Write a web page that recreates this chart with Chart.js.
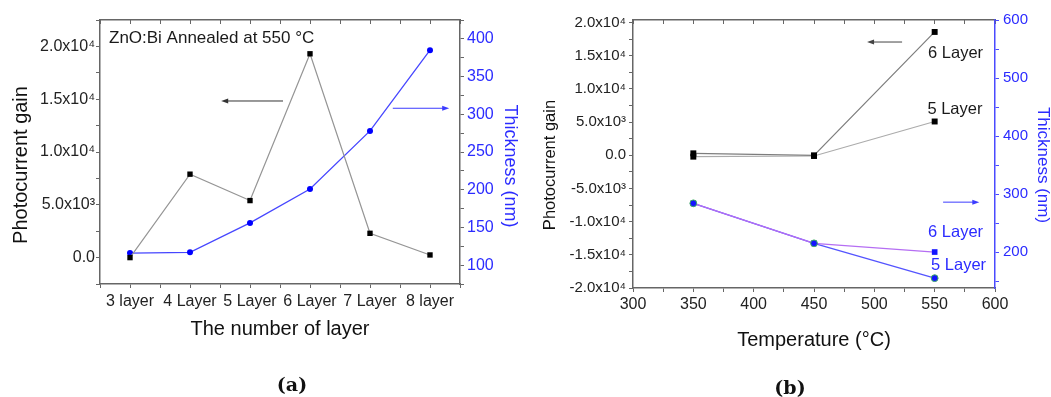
<!DOCTYPE html>
<html>
<head>
<meta charset="utf-8">
<script src="https://cdn.jsdelivr.net/npm/chart.js@4/dist/chart.umd.min.js"></script>
<style>
  body { margin: 0; background: #fff; width: 1051px; height: 397px; position: relative; overflow: hidden; }
  canvas { position: absolute; top: 0; }
  #chartA { left: 0; }
  #chartB { left: 525px; }
  .tag { position: absolute; transform: translate(-50%, -50%); font: bold 19px 'DejaVu Serif', 'Liberation Serif', serif; color: #111; }
</style>
</head>
<body>
<canvas id="chartA" width="525" height="397"></canvas>
<canvas id="chartB" width="526" height="397"></canvas>
<div class="tag" style="left:292px;top:384px">(a)</div>
<div class="tag" style="left:790px;top:387px">(b)</div>
<script>
// (a) ZnO:Bi annealed at 550 C, by number of layers
const layers = ['3 layer', '4 Layer', '5 Layer', '6 Layer', '7 Layer', '8 layer'];
const gainByLayer = [0, 7900, 5400, 19300, 2300, 250];
const thicknessByLayer = [116, 117, 156, 201, 278, 385];

// (b) by annealing temperature
const temps = [350, 450, 550];
const gain6 = [300, 0, 18600];
const gain5 = [-200, -100, 5100];
const thick6 = [284, 215, 200];
const thick5 = [284, 215, 155];

const FONT = "'Liberation Sans', Arial, sans-serif";
const INK = '#222';
const AXIS = '#666';
const BLUE = '#2b2bff';

const SUP = { 3: '\u00b3', 4: '\u2074' };

function sci(v) {
  if (v === 0) return '0.0';
  const e = Math.floor(Math.log10(Math.abs(v)));
  return (v / Math.pow(10, e)).toFixed(1) + 'x10' + SUP[e];
}

function pts(xs, ys) {
  return xs.map((x, i) => ({ x: x, y: ys[i] }));
}

// major ticks get a label, minor ones only a mark
function stepTicks(step) {
  return scale => {
    const out = [];
    for (let v = Math.ceil(scale.min / step - 1e-9) * step; v <= scale.max + 1e-9; v += step) {
      out.push({ value: Math.round(v * 1000) / 1000 });
    }
    scale.ticks = out;
  };
}

function isMajor(v, major) {
  return Math.abs(v / major - Math.round(v / major)) < 1e-6;
}

function makeAxis(o) {
  const horizontal = o.position === 'top' || o.position === 'bottom';
  return {
    type: 'linear',
    position: o.position,
    min: o.min,
    max: o.max,
    afterBuildTicks: stepTicks(o.step),
    afterFit: s => { s[horizontal ? 'height' : 'width'] = o.fixed; },
    border: { display: true, color: o.line || AXIS, width: 1.5 },
    grid: { drawOnChartArea: false, tickLength: o.tickLength || 4, color: o.line || AXIS },
    title: o.title || { display: false },
    ticks: {
      display: o.label !== undefined,
      autoSkip: false,
      maxRotation: 0,
      padding: o.pad || 0,
      color: o.color || INK,
      font: { family: FONT, size: o.size || 16 },
      callback: v => (o.label && isMajor(v, o.major) ? o.label(v) : '')
    }
  };
}

function arrow(ctx, x1, y1, x2, y2, color) {
  const dir = Math.sign(x2 - x1);
  ctx.strokeStyle = color;
  ctx.fillStyle = color;
  ctx.lineWidth = 1;
  ctx.beginPath();
  ctx.moveTo(x1, y1);
  ctx.lineTo(x2 - dir * 6, y2);
  ctx.stroke();
  ctx.beginPath();
  ctx.moveTo(x2, y2);
  ctx.lineTo(x2 - dir * 7, y2 - 2.5);
  ctx.lineTo(x2 - dir * 7, y2 + 2.5);
  ctx.closePath();
  ctx.fill();
}

const decorations = {
  id: 'decorations',
  afterDatasetsDraw(chart, args, opts) {
    const ctx = chart.ctx;
    const xs = chart.scales.x;
    ctx.save();
    (opts.arrows || []).forEach(a => {
      const ys = chart.scales[a.yAxis];
      arrow(ctx, xs.getPixelForValue(a.from[0]), ys.getPixelForValue(a.from[1]),
        xs.getPixelForValue(a.to[0]), ys.getPixelForValue(a.to[1]), a.color);
    });
    ctx.textBaseline = 'middle';
    (opts.notes || []).forEach(n => {
      const ys = chart.scales[n.yAxis];
      ctx.font = n.size + 'px ' + FONT;
      ctx.fillStyle = n.color;
      ctx.textAlign = 'left';
      ctx.fillText(n.text, xs.getPixelForValue(n.x), ys.getPixelForValue(n.y));
    });
    // rotated axis titles
    (opts.titles || []).forEach(t => {
      ctx.save();
      ctx.translate(t.x, t.y);
      ctx.rotate(t.rot * Math.PI / 180);
      ctx.font = t.size + 'px ' + FONT;
      ctx.fillStyle = t.color;
      ctx.textAlign = 'center';
      ctx.fillText(t.text, 0, 0);
      ctx.restore();
    });
    ctx.restore();
  }
};

const base = {
  responsive: false,
  animation: false,
  devicePixelRatio: 1,
  layout: { padding: 0 },
  elements: { line: { tension: 0 } }
};

new Chart(document.getElementById('chartA'), {
  type: 'line',
  data: {
    datasets: [
      {
        data: pts(layers.map((_, i) => i), gainByLayer),
        yAxisID: 'y',
        borderColor: '#959595',
        borderWidth: 1.2,
        pointStyle: 'rect',
        pointRadius: 3.8,
        pointBackgroundColor: '#000',
        pointBorderWidth: 0
      },
      {
        data: pts(layers.map((_, i) => i), thicknessByLayer),
        yAxisID: 'y2',
        borderColor: '#4646ff',
        borderWidth: 1.3,
        pointStyle: 'circle',
        pointRadius: 3,
        pointBackgroundColor: '#0000ff',
        pointBorderWidth: 0
      }
    ]
  },
  options: Object.assign({}, base, {
    plugins: {
      legend: { display: false },
      tooltip: { enabled: false },
      decorations: {
        arrows: [
          { from: [2.55, 14830], to: [1.52, 14830], yAxis: 'y', color: '#333' },
          { from: [4.38, 308], to: [5.32, 308], yAxis: 'y2', color: '#3b3bff' }
        ],
        notes: [
          { text: 'ZnO:Bi Annealed at 550 \u00b0C', x: -0.35, y: 20800, yAxis: 'y', size: 17, color: '#1a1a1a' }
        ],
        titles: [
          { text: 'Photocurrent gain', x: 21, y: 165, rot: -90, size: 20, color: '#111' },
          { text: 'Thickness (nm)', x: 510, y: 166, rot: 90, size: 18, color: BLUE }
        ]
      }
    },
    scales: {
      x: makeAxis({
        position: 'bottom', min: -0.5, max: 5.5, step: 0.5, major: 1,
        label: v => layers[v], pad: 3.5, fixed: 113,
        title: { display: true, text: 'The number of layer', color: '#111',
          font: { family: FONT, size: 20 }, padding: { top: 0, bottom: 56 } }
      }),
      xTop: makeAxis({ position: 'top', min: -0.5, max: 5.5, step: 0.5, tickLength: -4, fixed: 20 }),
      y: makeAxis({ position: 'left', min: -2500, max: 22500, step: 2500, major: 5000, label: sci, pad: 1, fixed: 100 }),
      y2: makeAxis({ position: 'right', min: 75, max: 425, step: 25, major: 50, label: v => String(v), color: BLUE, pad: 3, fixed: 65 })
    }
  }),
  plugins: [decorations]
});

new Chart(document.getElementById('chartB'), {
  type: 'line',
  data: {
    datasets: [
      {
        data: pts(temps, thick5),
        yAxisID: 'y2',
        showLine: false,
        pointStyle: 'circle',
        pointRadius: 3.4,
        pointBackgroundColor: '#1414ff',
        pointBorderColor: '#3fae5f',
        pointBorderWidth: 1
      },
      {
        data: pts(temps, thick6),
        yAxisID: 'y2',
        borderColor: '#b56ef3',
        borderWidth: 1.3,
        pointStyle: 'rect',
        pointRadius: 4,
        pointBackgroundColor: '#1414ff',
        pointBorderWidth: 0
      },
      {
        data: pts(temps, thick5),
        yAxisID: 'y2',
        borderColor: '#5454ff',
        borderWidth: 1.3,
        pointRadius: 0
      },
      {
        data: pts(temps, gain6),
        yAxisID: 'y',
        borderColor: '#7d7d7d',
        borderWidth: 1.2,
        pointStyle: 'rect',
        pointRadius: 4.2,
        pointBackgroundColor: '#000',
        pointBorderWidth: 0
      },
      {
        data: pts(temps, gain5),
        yAxisID: 'y',
        borderColor: '#ababab',
        borderWidth: 1.2,
        pointStyle: 'rect',
        pointRadius: 4.2,
        pointBackgroundColor: '#000',
        pointBorderWidth: 0
      }
    ]
  },
  options: Object.assign({}, base, {
    plugins: {
      legend: { display: false },
      tooltip: { enabled: false },
      decorations: {
        arrows: [
          { from: [523, 17080], to: [494, 17080], yAxis: 'y', color: '#444' },
          { from: [557, 286], to: [587, 286], yAxis: 'y2', color: '#3b3bff' }
        ],
        notes: [
          { text: '6 Layer', x: 544.5, y: 15420, yAxis: 'y', size: 16.5, color: '#1a1a1a' },
          { text: '5 Layer', x: 544, y: 6980, yAxis: 'y', size: 16.5, color: '#1a1a1a' },
          { text: '6 Layer', x: 544.5, y: 234.5, yAxis: 'y2', size: 16.5, color: BLUE },
          { text: '5 Layer', x: 547, y: 177.6, yAxis: 'y2', size: 16.5, color: BLUE }
        ],
        titles: [
          { text: 'Photocurrent gain', x: 25, y: 165, rot: -90, size: 16.5, color: '#111' },
          { text: 'Thickness (nm)', x: 518, y: 165, rot: 90, size: 17, color: BLUE }
        ]
      }
    },
    scales: {
      x: makeAxis({
        position: 'bottom', min: 300, max: 600, step: 25, major: 50,
        label: v => String(v), pad: 2.5, fixed: 109,
        title: { display: true, text: 'Temperature (\u00b0C)', color: '#111',
          font: { family: FONT, size: 20 }, padding: { top: 0, bottom: 45 } }
      }),
      xTop: makeAxis({ position: 'top', min: 300, max: 600, step: 25, tickLength: -4, fixed: 20 }),
      y: makeAxis({ position: 'left', min: -20000, max: 20400, step: 2500, major: 5000, label: sci, size: 15, pad: 3, fixed: 108 }),
      y2: makeAxis({ position: 'right', min: 138, max: 600, step: 50, major: 100, label: v => String(v), size: 15, color: BLUE, line: '#4a4aff', pad: 4, fixed: 56 })
    }
  }),
  plugins: [decorations]
});
</script>
</body>
</html>
